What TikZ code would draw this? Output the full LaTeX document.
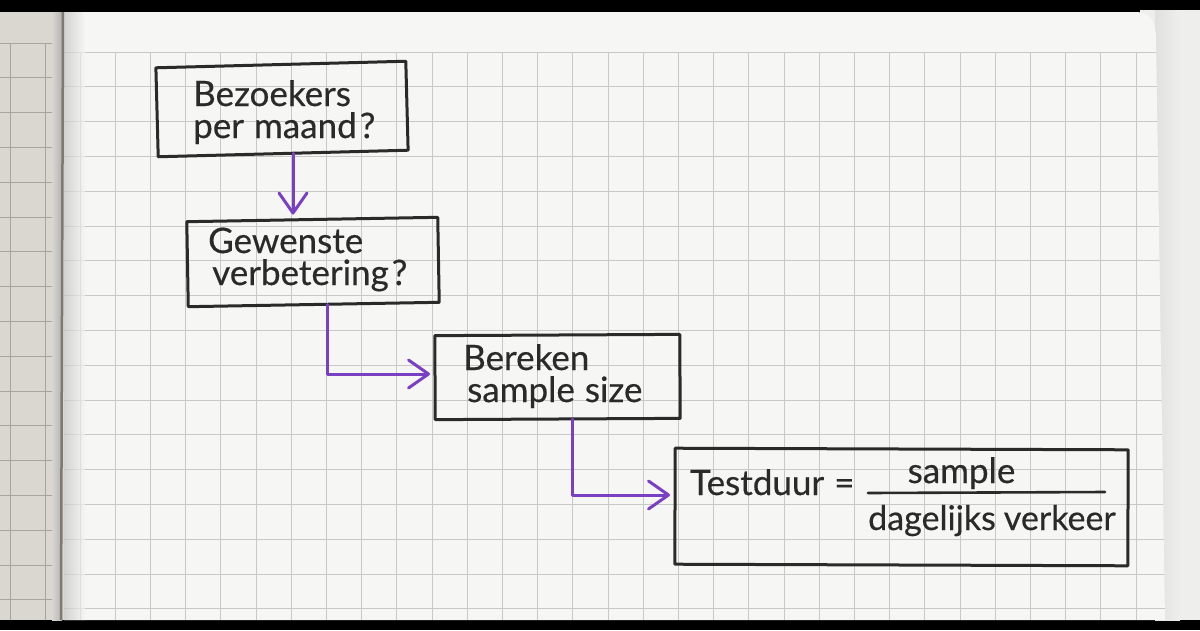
\documentclass[tikz,border=0pt]{standalone}
\usepackage{fontspec}
\setmainfont{Lato}[FakeBold=0.4]
\usetikzlibrary{arrows.meta,calc}
\definecolor{ink}{HTML}{2A2A2A}
\definecolor{arrowpurple}{HTML}{7A40C4}
\definecolor{paper}{HTML}{F6F6F4}
\definecolor{gridc}{HTML}{C8C8C6}
\definecolor{leftpaper}{HTML}{DAD7D1}
\definecolor{leftgrid}{HTML}{A8A49D}
\definecolor{outside}{HTML}{EEEEEC}
\definecolor{spine}{HTML}{7E7A72}
\newcommand{\qm}{\hspace{3pt}?}
\newcommand{\handfont}{\fontsize{35}{32}\selectfont\spaceskip=10pt plus 2pt\relax}
\newcommand{\handfontsmall}{\fontsize{34}{32}\selectfont\spaceskip=8pt plus 2pt\relax}
\tikzset{
  box/.style={draw=ink, line width=3pt, rectangle, inner sep=0pt, outer sep=0pt, line join=round},
  txt/.style={text=ink, font=\handfont, inner sep=0pt, anchor=base west, align=left},
  conn/.style={draw=arrowpurple, line width=3pt, line cap=round, line join=round,
    -{Straight Barb[length=20pt,width=28pt,line width=3pt,round]}, shorten >=5pt},
  gridline/.style={draw=gridc, line width=1pt},
  lgridline/.style={draw=leftgrid, line width=1pt}
}
\begin{document}
\begin{tikzpicture}[x=1pt,y=-1pt]
\useasboundingbox (0,0) rectangle (1200,630);
% frame and surroundings
\fill[black] (0,0) rectangle (1200,630);
\fill[outside] (1140,10) rectangle (1200,620);
\shade[left color=black!12, right color=outside] (1155,10) rectangle (1180,620);
% left page
\fill[leftpaper] (0,12) rectangle (66,620);
\foreach \k in {0,...,16} \draw[lgridline] (0,{43+34.8*\k}) -- (62,{43+34.8*\k});
\foreach \xx in {10,45} \draw[lgridline] (\xx,43) -- (\xx,620);
\shade[left color=leftpaper, right color=black!30] (52,12) rectangle (62,620);
% right page
\path[fill=paper] (64,12) -- (1136,12) .. controls (1150,12) and (1155,20) .. (1156,36) -- (1165,620) -- (64,620) -- cycle;
\begin{scope}
  \clip (64,12) -- (1136,12) .. controls (1150,12) and (1155,20) .. (1156,36) -- (1165,620) -- (64,620) -- cycle;
  \foreach \k in {0,...,16} \draw[gridline] (64,{52+34.8*\k}) -- (1170,{52+34.8*\k});
  \foreach \k in {-15,...,15} \draw[gridline] ({608+35.2*\k},52) -- ({608+35.2*\k},620);
  \shade[left color=black!25, right color=paper, opacity=0.7] (62,12) rectangle (85,620);
\end{scope}
\draw[spine, line width=2.5pt] (63,12) -- (61,620);

% boxes
\node[box, minimum width=250pt, minimum height=89pt, rotate=1.5] (b1) at (282,109) {};
\node[box, minimum width=251pt, minimum height=85pt, rotate=1] (b2) at (313,262) {};
\node[box, minimum width=245pt, minimum height=84pt, rotate=0.3] (b3) at (557.5,377) {};
\node[box, minimum width=453pt, minimum height=116pt, rotate=-0.2] (b4) at (901.5,507) {};

% texts (base anchor = baseline of the last line)
\node[txt] (t1) at (193,138) {Bezoekers\\per maand\qm};
\node[txt] (t2) at (208,285) {Gewenste\\\hspace{4pt}verbetering\qm};
\node[txt] (t3) at (463,402) {Bereken\\\hspace{4pt}sample size};
\node[txt] (t4a) at (690,495) {Testduur =};
\node[txt, anchor=base] (t4n) at (961.5,483) {sample};
\node[txt, font=\handfontsmall] (t4d) at (868,530) {dagelijks verkeer};
\coordinate (barL) at (868,493);
\coordinate (barR) at (1105,492);
\draw[ink, line width=2.6pt, line cap=round] (barL) -- (barR);

% connectors
\coordinate (a1) at (293,0);
\coordinate (a2) at (327,374);
\coordinate (a3) at (572,495);
\draw[conn] (b1.south -| a1) -- (b2.north -| a1);
\draw[conn] (b2.south -| a2) |- (b3.west |- a2);
\draw[conn] (b3.south -| a3) |- (b4.west |- a3);
\end{tikzpicture}
\end{document}
